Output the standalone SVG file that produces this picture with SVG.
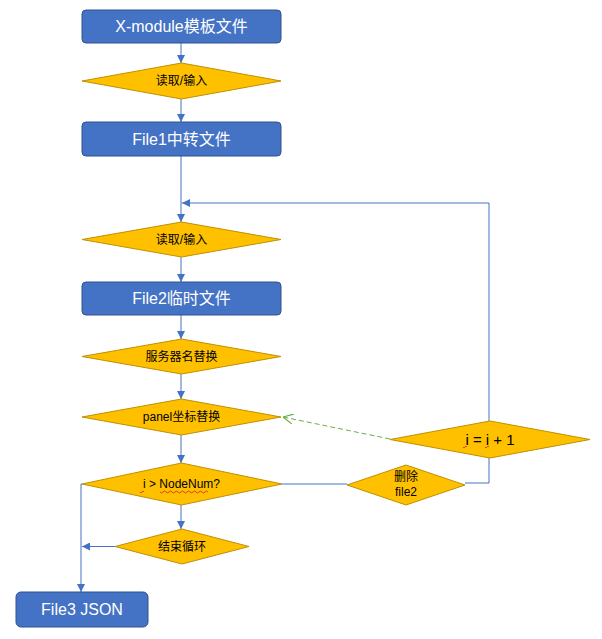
<svg xmlns="http://www.w3.org/2000/svg" width="602" height="639" viewBox="0 0 602 639">
<defs>
<marker id="ah" viewBox="0 0 10 10" refX="10" refY="5" markerWidth="8" markerHeight="8" markerUnits="userSpaceOnUse" orient="auto">
<path d="M0,0 L10,5 L0,10 z" fill="#4472C4"/>
</marker>
<marker id="oh" viewBox="0 0 10 10" refX="10" refY="5" markerWidth="10" markerHeight="10" markerUnits="userSpaceOnUse" orient="auto">
<path d="M0,0 L10,5 L0,10" fill="none" stroke="#70AD47" stroke-width="1.2"/>
</marker>
</defs>
<style>
.box{fill:#4472C4;stroke:#2F528F;stroke-width:1}
.dia{fill:#FFC000;stroke:#BF9000;stroke-width:1}
.bt{font-family:"Liberation Sans","Noto Sans CJK SC",sans-serif;font-size:16px;fill:#fff;text-anchor:middle;dominant-baseline:central}
.dt{font-family:"Liberation Sans","Noto Sans CJK SC",sans-serif;font-size:12px;fill:#000;text-anchor:middle;dominant-baseline:central}
.ln{fill:none;stroke:#4472C4;stroke-width:1}
.arr{fill:none;stroke:#4472C4;stroke-width:1;marker-end:url(#ah)}
.dash{fill:none;stroke:#70AD47;stroke-width:1;stroke-dasharray:5,3;marker-end:url(#oh)}
.wv{fill:none;stroke:#E02020;stroke-width:0.8}
</style>
<g id="connectors">
<path class="arr" d="M181,43 V63"/>
<path class="arr" d="M181,99 V122"/>
<path class="arr" d="M181,156 V222"/>
<path class="arr" d="M489,421 V203 H182"/>
<path class="arr" d="M181,257 V282"/>
<path class="arr" d="M181,315 V339"/>
<path class="arr" d="M181,374 V399"/>
<path class="arr" d="M181,435 V463"/>
<path class="arr" d="M181,505 V529"/>
<path class="arr" d="M82,484 H81 V592"/>
<path class="arr" d="M115,546.5 H82"/>
<path class="ln" d="M282,484 H347"/>
<path class="ln" d="M465,483 H489 V458"/>
<path class="dash" d="M390,439 L283,417"/>
</g>
<g id="n1"><rect class="box" x="82" y="10" width="199" height="33" rx="4"/><text class="bt" x="181.5" y="26.5">X-module模板文件</text></g>
<g id="n2"><polygon class="dia" points="82,81 181.5,63 281,81 181.5,99"/><text class="dt" x="181.5" y="81">读取/输入</text></g>
<g id="n3"><rect class="box" x="82" y="122" width="199" height="34" rx="4"/><text class="bt" x="181.5" y="139">File1中转文件</text></g>
<g id="n4"><polygon class="dia" points="82,239.5 181.5,222 281,239.5 181.5,257"/><text class="dt" x="181.5" y="239.5">读取/输入</text></g>
<g id="n5"><rect class="box" x="82" y="282" width="199" height="33" rx="4"/><text class="bt" x="181.5" y="298.5">File2临时文件</text></g>
<g id="n6"><polygon class="dia" points="82,356.5 181.5,339 281,356.5 181.5,374"/><text class="dt" x="181.5" y="356.5">服务器名替换</text></g>
<g id="n7"><polygon class="dia" points="82,417 181.5,399 281,417 181.5,435"/><text class="dt" x="181.5" y="417">panel坐标替换</text></g>
<g id="n8"><polygon class="dia" points="82,484 181.5,463 282,484 181.5,505"/><text class="dt" x="181.5" y="484">i &gt; NodeNum?</text>
<path class="wv" d="M140,492 q1,2 2,0 t2,0"/>
<path class="wv" d="M160,492 q1.5,2 3,0 t3,0 t3,0 t3,0 t3,0 t3,0 t3,0 t3,0 t3,0 t3,0 t3,0 t3,0 t3,0 t3,0 t3,0 t3,0"/></g>
<g id="n9"><polygon class="dia" points="115,546.5 182,529 249,546.5 182,564"/><text class="dt" x="182" y="546.5">结束循环</text></g>
<g id="n10"><rect class="box" x="16" y="592" width="132" height="35" rx="5"/><text class="bt" x="82" y="609.5">File3 JSON</text></g>
<g id="n11"><polygon class="dia" points="390,439.5 490,421 590,439.5 490,458"/><text class="dt" x="490" y="439" style="font-size:15px">i = i + 1</text>
<path class="wv" d="M463,447 q1,2 2,0 t2,0"/><path class="wv" d="M485,447 q1,2 2,0 t2,0"/></g>
<g id="n12"><polygon class="dia" points="347,485 406,465 465,485 406,505"/><text class="dt" x="406" y="477">删除</text><text class="dt" x="406" y="492">file2</text></g>
</svg>
